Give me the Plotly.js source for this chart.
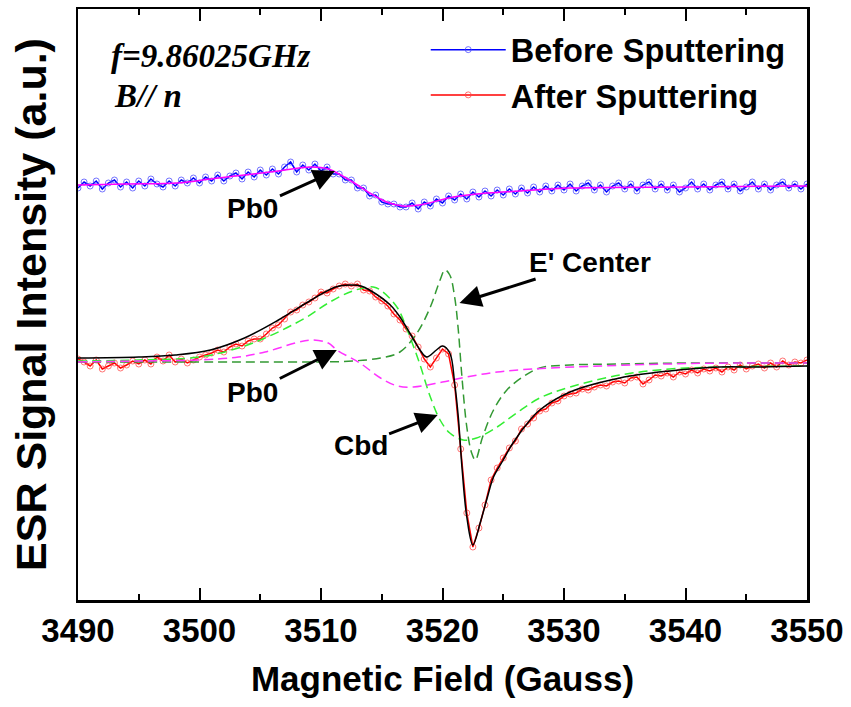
<!DOCTYPE html>
<html>
<head>
<meta charset="utf-8">
<script src="https://cdn.plot.ly/plotly-3.0.1.min.js"></script>
<style>html,body{margin:0;padding:0;background:#fff;}#chart{width:851px;height:707px;}</style>
</head>
<body>
<div id="chart"></div>
<script>
// Magnetic field sweep (Gauss), sampled every 0.5 G
const field = [
3490,3490.5,3491,3491.5,3492,3492.5,3493,3493.5,3494,3494.5,
3495,3495.5,3496,3496.5,3497,3497.5,3498,3498.5,3499,3499.5,
3500,3500.5,3501,3501.5,3502,3502.5,3503,3503.5,3504,3504.5,
3505,3505.5,3506,3506.5,3507,3507.5,3508,3508.5,3509,3509.5,
3510,3510.5,3511,3511.5,3512,3512.5,3513,3513.5,3514,3514.5,
3515,3515.5,3516,3516.5,3517,3517.5,3518,3518.5,3519,3519.5,
3520,3520.5,3521,3521.5,3522,3522.5,3523,3523.5,3524,3524.5,
3525,3525.5,3526,3526.5,3527,3527.5,3528,3528.5,3529,3529.5,
3530,3530.5,3531,3531.5,3532,3532.5,3533,3533.5,3534,3534.5,
3535,3535.5,3536,3536.5,3537,3537.5,3538,3538.5,3539,3539.5,
3540,3540.5,3541,3541.5,3542,3542.5,3543,3543.5,3544,3544.5,
3545,3545.5,3546,3546.5,3547,3547.5,3548,3548.5,3549,3549.5,
3550];

// ESR signal before sputtering (a.u., offset upward)
const beforeSignal = [
175,181,177,182,174,180,183,176,181,175,
182,177,184,179,176,182,177,183,180,185,
180,186,182,188,182,187,190,184,191,186,
193,188,194,189,196,201,191,198,193,199,
192,196,189,189,183,183,175,175,167,168,
161,159,159,156,156,160,154,161,157,164,
160,167,163,169,164,171,166,172,167,173,
168,174,169,175,170,176,171,177,172,178,
173,179,172,177,180,173,178,171,177,180,
174,179,172,178,181,174,179,173,178,171,
175,181,174,179,173,178,181,174,179,172,
176,181,174,179,173,178,181,175,179,174,
179];

// ESR signal after sputtering (a.u.)
const afterSignal = [
4,1,-3,3,-6,-3,0,-5,-2,2,
-1,3,-1,6,2,8,1,4,0,3,
6,8,10,13,11,16,19,17,22,24,
24,29,35,38,44,51,53,58,61,65,
71,70,74,77,79,77,79,73,72,66,
62,57,49,43,34,27,16,4,-4,5,
14,9,-22,-86,-150,-184,-165,-142,-117,-105,
-95,-85,-78,-66,-61,-55,-48,-46,-40,-38,
-33,-31,-30,-26,-27,-24,-22,-23,-19,-18,
-20,-15,-14,-21,-17,-12,-13,-10,-14,-9,
-11,-7,-10,-6,-8,-5,-9,-4,-7,-2,
-6,-3,-1,-5,0,-4,2,-2,1,0,
3];

// Smooth Pb0 fit through the "before" data
const beforeFitField = [3490,3494,3498.2,3500.9,3503.7,3506.5,3509.2,3510.6,3512.6,3514,3515.4,3516.7,3518.1,3520.9,3523.7,3526.4,3530.5,3540,3550];
const beforeFit      = [178,179,180,184,188,192,196,194,181,170,161,157,158,166,170,172,175,176,177];

// Total fit of the "after" data
const totalFitField = [3490,3495,3498,3500.9,3503.7,3506.5,3509.2,3511.2,3512.4,3513.3,3514,3515.7,3516.5,3517.3,3518.15,3518.7,3519.5,3520.0,3520.6,3521.0,3521.3,3521.6,3522.0,3522.5,3523.1,3523.7,3524.2,3525.0,3525.8,3527.2,3528.0,3530.5,3534.6,3538.7,3542.8,3546,3550];
const totalFit      = [5,6,8,13,25,43,63,76,78,77,73,58,46,30,13,6,13,17,10,-20,-54,-104,-154,-182,-160,-134,-114,-97,-80,-57,-47,-29,-15,-8,-4,-4,-3];

// Cbd component
const cbdField = [3490,3495,3500,3503.2,3505.4,3508.7,3510.6,3512.6,3514.3,3515.1,3516.3,3517.1,3518.1,3519.0,3519.8,3520.6,3521.7,3522.8,3524.5,3526.1,3528.0,3530.5,3534.6,3538.7,3542.8,3550];
const cbdFit   = [2,3,6,15,25,45,60,72,76,71,55,33,0,-34,-57,-70,-77,-75,-64,-50,-35,-24,-12,-6,-4,-3];

// E' center component
const eField = [3490,3500,3505,3510,3512.6,3514.9,3516.5,3517.9,3519.0,3519.8,3520.2,3520.6,3521.0,3521.3,3521.6,3522.0,3522.4,3522.7,3523.3,3524.2,3525.3,3526.6,3528.0,3530.5,3534.6,3540,3550];
const eFit   = [1,1,1,1,2,5,11,30,56,83,93,88,66,33,-14,-64,-90,-97,-74,-47,-27,-14,-5,-2,-1,0,0];

// Pb0 component
const pbField = [3490,3495,3500,3503.2,3505.4,3507.9,3509.2,3510.6,3511.3,3513.2,3514.9,3516.3,3517.6,3520.0,3522.0,3524.5,3527.4,3533.0,3538.5,3543.9,3550];
const pbFit   = [1,2,3,6,11,20,23,20,13,0,-15,-23,-24,-19,-14,-9,-6,-3,-1,0,0];

const xTicks = [3490,3500,3510,3520,3530,3540,3550];

const dashPat = '9px,5px';
const traces = [
  {x: field, y: beforeSignal, mode: 'lines+markers', name: 'Before Sputtering',
   line: {color: '#0000FF', width: 1.5},
   marker: {symbol: 'circle-open', size: 6, color: 'rgba(70,70,255,0.75)', line: {width: 1}}},
  {x: beforeFitField, y: beforeFit, mode: 'lines', line: {color: '#FF00FF', width: 1.5, shape: 'spline'}, showlegend: false, hoverinfo: 'skip'},
  {x: field, y: afterSignal, mode: 'lines+markers', name: 'After Sputtering',
   line: {color: '#FF0000', width: 1.5},
   marker: {symbol: 'circle-open', size: 6, color: 'rgba(255,70,70,0.75)', line: {width: 1}}},
  {x: cbdField, y: cbdFit, mode: 'lines', line: {color: '#33EE33', width: 1.5, dash: dashPat, shape: 'spline'}, showlegend: false},
  {x: eField, y: eFit, mode: 'lines', line: {color: '#339933', width: 1.5, dash: dashPat, shape: 'spline'}, showlegend: false},
  {x: pbField, y: pbFit, mode: 'lines', line: {color: '#FF33FF', width: 1.5, dash: dashPat, shape: 'spline'}, showlegend: false},
  {x: totalFitField, y: totalFit, mode: 'lines', line: {color: '#000000', width: 1.5, shape: 'spline'}, showlegend: false}
];

const arrowStyle = {showarrow: true, arrowhead: 2, arrowsize: 1.45, arrowwidth: 3, arrowcolor: '#000',
  axref: 'pixel', ayref: 'pixel', font: {family: 'Arial, Liberation Sans, sans-serif', size: 28, color: '#000'}};

const layout = {
  width: 851, height: 707,
  margin: {l: 78, r: 44, t: 9, b: 107},
  paper_bgcolor: '#fff', plot_bgcolor: '#fff',
  font: {family: 'Arial, Liberation Sans, sans-serif', color: '#000'},
  xaxis: {
    range: [3490, 3550], tickvals: xTicks, ticks: 'inside', ticklen: 12, tickwidth: 2, tickcolor: '#000',
    minor: {dtick: 5, tick0: 3490, ticks: 'inside', ticklen: 6, tickwidth: 2, tickcolor: '#000'},
    showline: true, linewidth: 2.5, linecolor: '#000', mirror: 'ticks', showgrid: false, zeroline: false,
    tickfont: {size: 33, family: 'Arial, Liberation Sans, sans-serif', weight: 'bold'},
    title: {text: '<b>Magnetic Field (Gauss)</b>', font: {size: 35}, standoff: 19}
  },
  yaxis: {
    range: [-237, 354], showticklabels: false, ticks: '', showline: true, linewidth: 2.5, linecolor: '#000',
    mirror: true, showgrid: false, zeroline: false,
    title: {text: '<b>ESR Signal Intensity (a.u.)</b>', font: {size: 43}, standoff: 16}
  },
  showlegend: true,
  legend: {x: 0.477, y: 0.978, xanchor: 'left', yanchor: 'top', bgcolor: 'rgba(0,0,0,0)',
    font: {size: 32.5, weight: 'bold'}, itemwidth: 75, tracegroupgap: 0},
  annotations: [
    Object.assign({x: 3511.15, y: 192, ax: -82, ay: 37, text: '<b>Pb0</b>'}, arrowStyle),
    Object.assign({x: 3511.3, y: 13, ax: -84, ay: 42, text: '<b>Pb0</b>'}, arrowStyle),
    Object.assign({x: 3519.6, y: -52, ax: -77, ay: 30, text: '<b>Cbd</b>'}, arrowStyle),
    Object.assign({x: 3521.4, y: 60, ax: 130, ay: -41, text: "<b>E' Center</b>"}, arrowStyle),
    {xref: 'paper', yref: 'paper', x: (109-78)/729, y: (600-56)/591, xanchor: 'left', yanchor: 'middle', showarrow: false,
     text: '<b><i>f=9.86025GHz</i></b>', font: {family: 'Liberation Serif, Times New Roman, serif', size: 33, color: '#000'}},
    {xref: 'paper', yref: 'paper', x: (112-78)/729, y: (600-96)/591, xanchor: 'left', yanchor: 'middle', showarrow: false,
     text: '<b><i>B// n</i></b>', font: {family: 'Liberation Serif, Times New Roman, serif', size: 33, color: '#000'}}
  ]
};

Plotly.newPlot('chart', traces, layout, {displayModeBar: false, staticPlot: true});
</script>
</body>
</html>
